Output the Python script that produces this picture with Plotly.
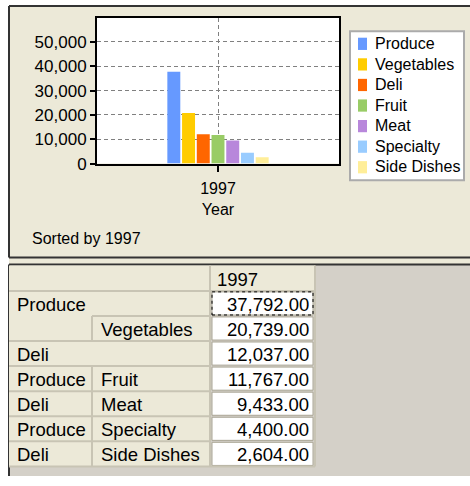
import plotly.graph_objects as go

# data
years = ["1997"]
categories = ["Produce", "Vegetables", "Deli", "Fruit", "Meat", "Specialty", "Side Dishes"]
values_1997 = [37792, 20739, 12037, 11767, 9433, 4400, 2604]
colors = ["#6699FF", "#FFCC00", "#FF6600", "#99CC66", "#B887DB", "#99CCFF", "#FFEE99"]
row_group = ["Produce", "", "Deli", "Produce", "Deli", "Produce", "Deli"]
row_sub = ["", "Vegetables", "", "Fruit", "Meat", "Specialty", "Side Dishes"]
y_ticks = [0, 10000, 20000, 30000, 40000, 50000]
sort_note = "Sorted by 1997"

W, H = 470, 486
FONT = "Liberation Sans, Arial, sans-serif"
BEIGE = "#ECE9D8"
GRAY = "#D4D0C8"
DARK = "#333333"


# positions below are in window pixels
def px(x):
    return x / W


def py(y):
    return 1 - y / H


def rect(x0, y0, x1, y1, fill, line=None, lw=0, dash=None):
    d = dict(type="rect", xref="paper", yref="paper",
             x0=px(x0), x1=px(x1), y0=py(y1), y1=py(y0),
             fillcolor=fill, layer="below", line=dict(width=lw))
    if line:
        d["line"] = dict(color=line, width=lw, dash=dash) if dash else dict(color=line, width=lw)
    return d


def hline(x0, x1, y, color, lw=2):
    return dict(type="line", xref="paper", yref="paper", x0=px(x0), x1=px(x1),
                y0=py(y), y1=py(y), line=dict(color=color, width=lw), layer="below")


def vline(x, y0, y1, color, lw=2):
    return dict(type="line", xref="paper", yref="paper", x0=px(x), x1=px(x),
                y0=py(y0), y1=py(y1), line=dict(color=color, width=lw), layer="below")


fig = go.Figure()
for cat, val, col in zip(categories, values_1997, colors):
    fig.add_trace(go.Bar(x=years, y=[val], name=cat, marker_color=col,
                         marker_line_width=0, showlegend=False))

shapes = []
annotations = []

# chart panel + grid background
shapes.append(rect(9, 6, W, H, BEIGE))
shapes.append(rect(9, 270, W, H, GRAY))
# white plot area
shapes.append(dict(type="rect", xref="x domain", yref="y domain", x0=0, x1=1, y0=0, y1=1,
                   fillcolor="white", line=dict(width=0), layer="below"))
shapes.append(hline(9, W, 6, DARK))
shapes.append(vline(9, 6, 263, DARK))
shapes.append(hline(9, W, 263, DARK))
shapes.append(hline(9, W, 270, DARK))
shapes.append(vline(9, 270, H, DARK))

# legend box
LX0, LY0, LX1, LY1 = 350, 32, 464, 184
shapes.append(rect(LX0, LY0, LX1, LY1, "white", "#ABABAB", 2))
for i, (cat, col) in enumerate(zip(categories, colors)):
    cy = 44.5 + i * 21
    shapes.append(rect(358, cy - 6, 367, cy + 6.5, col))
    annotations.append(dict(text=cat, x=px(373), y=py(cy), xref="paper", yref="paper",
                            xanchor="left", yanchor="middle", showarrow=False,
                            font=dict(family=FONT, size=16, color="black")))

annotations.append(dict(text=sort_note, x=px(30), y=py(243), xref="paper", yref="paper",
                        xanchor="left", yanchor="middle", showarrow=False,
                        font=dict(family=FONT, size=16, color="black")))

# grid / table
X0, C1, C2, C3 = 9, 92, 210, 315
HT, HB = 271, 297
PITCH = 25.6
CELL_LINE = "#C8C4B4"
TFONT = dict(family=FONT, size=18.5, color="black")
n = len(categories)
bottom = HB + n * PITCH
shapes.append(rect(X0, HT, C3, HB, BEIGE))
shapes.append(rect(X0, HB, C2, bottom, BEIGE))
shapes.append(vline(C2, HT, bottom, CELL_LINE))
shapes.append(vline(C3, HT, bottom, CELL_LINE))
shapes.append(hline(X0, C3, HB, CELL_LINE))
annotations.append(dict(text=years[0], x=px(215), y=py((HT + HB) / 2 + 1), xref="paper", yref="paper",
                        xanchor="left", yanchor="middle", showarrow=False, font=TFONT))

for i in range(n):
    top = HB + i * PITCH
    bot = top + PITCH
    mid = (top + bot) / 2 + 1
    start = X0 if row_group[i] else C1
    shapes.append(hline(start, C2, top, CELL_LINE))
    if row_sub[i]:
        shapes.append(vline(C1, top, bot, CELL_LINE))
        annotations.append(dict(text=row_sub[i], x=px(C1 + 7), y=py(mid), xref="paper", yref="paper",
                                xanchor="left", yanchor="middle", showarrow=False, font=TFONT))
    if row_group[i]:
        annotations.append(dict(text=row_group[i], x=px(X0 + 6), y=py(mid), xref="paper", yref="paper",
                                xanchor="left", yanchor="middle", showarrow=False, font=TFONT))
    shapes.append(rect(C2 + 2, top + 1, C3 - 2, bot - 1, "white", "#A9A594", 1))
    annotations.append(dict(text=f"{values_1997[i]:,.2f}", x=px(C3 - 4), y=py(mid), xref="paper",
                            yref="paper", xanchor="right", yanchor="middle", showarrow=False, font=TFONT))
shapes.append(hline(X0, C3, bottom, CELL_LINE))
# focus rectangle on first value cell
shapes.append(rect(C2 + 2, HB + 1, C3 - 2, HB + PITCH - 1, "rgba(0,0,0,0)", "black", 1, "dot"))

fig.update_layout(
    width=W, height=H,
    margin=dict(l=0, r=0, t=0, b=0),
    paper_bgcolor="white", plot_bgcolor="white",
    barmode="group", bargap=0.574, bargroupgap=0.12,
    showlegend=False,
    font=dict(family=FONT, size=16, color="black"),
    shapes=shapes, annotations=annotations,
    xaxis=dict(domain=[px(97), px(339)], type="category",
               showline=True, mirror=True, linecolor="black", linewidth=2,
               ticks="outside", ticklen=6, tickwidth=2, tickcolor="black",
               ticklabelstandoff=3,
               showgrid=True, gridcolor="#808080", griddash="4px,3px", gridwidth=1,
               tickfont=dict(family=FONT, size=16, color="black"),
               title=dict(text="Year", font=dict(family=FONT, size=16, color="black"), standoff=8)),
    yaxis=dict(domain=[py(167), py(18)], range=[0, 60000],
               tickvals=y_ticks, tickformat=",",
               showline=True, mirror=True, linecolor="black", linewidth=2,
               ticks="outside", ticklen=5, tickwidth=2, tickcolor="black",
               showgrid=True, gridcolor="#808080", griddash="4px,3px", gridwidth=1,
               zeroline=False,
               tickfont=dict(family=FONT, size=17, color="black")),
)

# drop the default body margin so the figure fills the window exactly; no modebar
fig.write_html("out.html", config={"displayModeBar": False},
               post_script="document.body.style.margin='0px';")
